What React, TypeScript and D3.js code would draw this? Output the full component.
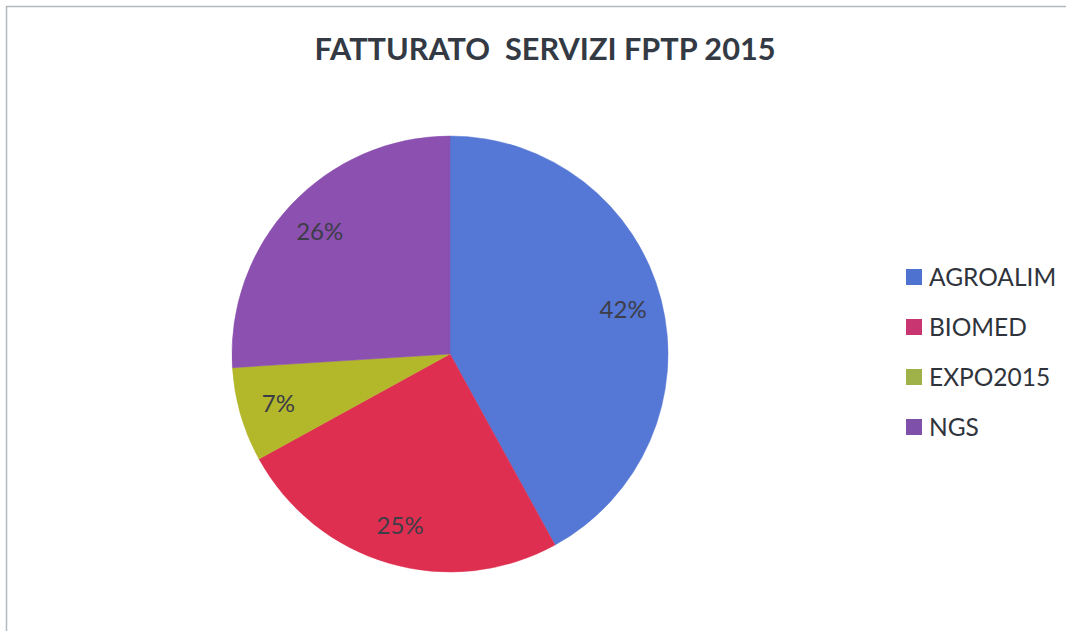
import React from "react";
import * as d3 from "d3";

const categories = ["AGROALIM", "BIOMED", "EXPO2015", "NGS"];
const values = [42, 25, 7, 26];
const labels = ["42%", "25%", "7%", "26%"];
const colors = ["#5577d5", "#df2f50", "#b3b72a", "#8b50b0"];
const legendColors = ["#4d72cf", "#c93570", "#9fb24a", "#7e50a9"];
const title = "FATTURATO  SERVIZI FPTP 2015";

export default function App() {
  const W = 1073, H = 631;
  const cx = 450, cy = 354, r = 218;
  const pie = d3.pie<number>().sort(null).value((d) => d)(values);
  const arc = d3.arc<d3.PieArcDatum<number>>().innerRadius(0).outerRadius(r);
  const labelArc = d3.arc<d3.PieArcDatum<number>>().innerRadius(r * 0.82).outerRadius(r * 0.82);
  const font = "Lato, 'Open Sans', sans-serif";
  const legendY = d3.scalePoint<string>().domain(categories).range([277, 427]);
  return (
    <svg width={W} height={H} style={{ position: "absolute", left: 0, top: 0, background: "#fff" }}>
      <rect x={0} y={0} width={W} height={H} fill="#ffffff" />
      <line x1={6.5} y1={6} x2={6.5} y2={H} stroke="#b4b8c0" strokeWidth={1.5} />
      <line x1={6} y1={6.5} x2={1066} y2={6.5} stroke="#b4b8c0" strokeWidth={1.5} />
      <text x={545} y={60} textAnchor="middle" fontFamily={font} fontWeight="bold" fontSize={30}
        fill="#333a44" textLength={461} lengthAdjust="spacingAndGlyphs" style={{ whiteSpace: "pre" }}>
        {title}
      </text>
      <g transform={`translate(${cx},${cy})`}>
        {pie.map((p, i) => (
          <path key={i} d={arc(p) || ""} fill={colors[i]} stroke={colors[i]} strokeWidth={0.5} />
        ))}
        {pie.map((p, i) => {
          const [x, y] = labelArc.centroid(p);
          return (
            <text key={i} x={x} y={y} dy="0.35em" textAnchor="middle" fontFamily={font}
              fontSize={24} fill="#3d3d48">
              {labels[i]}
            </text>
          );
        })}
      </g>
      {categories.map((c, i) => {
        const y = legendY(c) as number;
        return (
          <g key={c}>
            <rect x={906} y={y - 8} width={16} height={16} fill={legendColors[i]} />
            <text x={929} y={y} dy="0.36em" fontFamily={font} fontSize={24.5} fill="#2f343c">
              {c}
            </text>
          </g>
        );
      })}
    </svg>
  );
}
